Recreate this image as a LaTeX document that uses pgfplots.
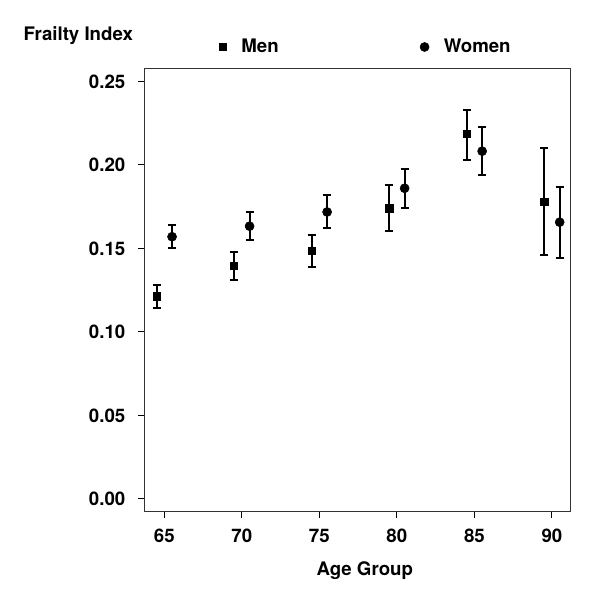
\documentclass[border=0pt]{standalone}
\usepackage{fontspec}
\setmainfont{TeX Gyre Heros}
\usepackage{pgfplots}
\usepackage{pgfplotstable}
\pgfplotsset{compat=1.18}
\pgfplotstableread{
x y lo hi
64.5 0.1213 0.1143 0.1279
69.5 0.1396 0.1313 0.1478
74.5 0.1486 0.1390 0.1581
79.5 0.1740 0.1605 0.1881
84.5 0.2186 0.2030 0.2331
89.5 0.1780 0.1458 0.2102
}\men
\pgfplotstableread{
x y lo hi
65.5 0.1570 0.1500 0.1639
70.5 0.1633 0.1550 0.1718
75.5 0.1718 0.1623 0.1818
80.5 0.1860 0.1742 0.1977
85.5 0.2082 0.1937 0.2226
90.5 0.1657 0.1444 0.1869
}\women
\begin{document}
\begin{tikzpicture}[x=1pt,y=1pt]
\useasboundingbox (-108.75,-69.75) rectangle (341.25,383.25);
\begin{axis}[
  at={(0,0)}, anchor=south west,
  scale only axis, width=319.5pt, height=331.5pt,
  xmin=63.755, xmax=91.23, ymin=-0.0072, ymax=0.2574,
  xtick={65,70,75,80,85,90},
  ytick={0,0.05,0.1,0.15,0.2,0.25},
  tick align=outside, major tick length=5.25pt,
  xtick pos=bottom, ytick pos=left,
  tick style={line width=0.75pt, black},
  axis line style={line width=0.75pt, black!80},
  /pgf/number format/assume math mode=true,
  ticklabel style={font=\bfseries\fontsize{14}{16}\selectfont},
  yticklabel style={/pgf/number format/.cd, fixed, fixed zerofill, precision=2, /tikz/.cd, xshift=-6pt},
  xticklabel style={yshift=-5pt},
  scaled y ticks=false,
  every axis x label/.style={at={(axis description cs:0.516,0)}, anchor=center, yshift=-45pt},
  every axis y label/.style={at={(axis description cs:0,1)}, anchor=west, xshift=-94.5pt, yshift=24.75pt},
  label style={font=\bfseries\fontsize{14}{16}\selectfont},
  xlabel={Age Group}, ylabel={Frailty Index},
  legend columns=2,
  legend image code/.code={\draw[#1] plot coordinates {(0pt,0pt)};},
  legend style={draw=none, fill=none, inner sep=0pt, at={(axis description cs:0.174,1.0498)}, anchor=west,
    font=\bfseries\fontsize{14}{16}\selectfont,
    /tikz/every odd column/.append style={column sep=9pt},
    /tikz/every even column/.append style={column sep=104pt}},
]
\addplot[only marks, mark=square*, mark size=2.75pt, black,
  error bars/.cd, y dir=both, y explicit,
  error bar style={line width=1.5pt},
  error mark options={rotate=90, mark size=3pt, line width=1.5pt}]
  table[x=x, y=y, y error plus expr={\thisrow{hi}-\thisrow{y}}, y error minus expr={\thisrow{y}-\thisrow{lo}}] {\men};
\addlegendentry{Men}
\addplot[only marks, mark=*, mark size=3.4pt, black,
  error bars/.cd, y dir=both, y explicit,
  error bar style={line width=1.5pt},
  error mark options={rotate=90, mark size=3pt, line width=1.5pt}]
  table[x=x, y=y, y error plus expr={\thisrow{hi}-\thisrow{y}}, y error minus expr={\thisrow{y}-\thisrow{lo}}] {\women};
\addlegendentry{Women}
\end{axis}
\end{tikzpicture}
\end{document}
